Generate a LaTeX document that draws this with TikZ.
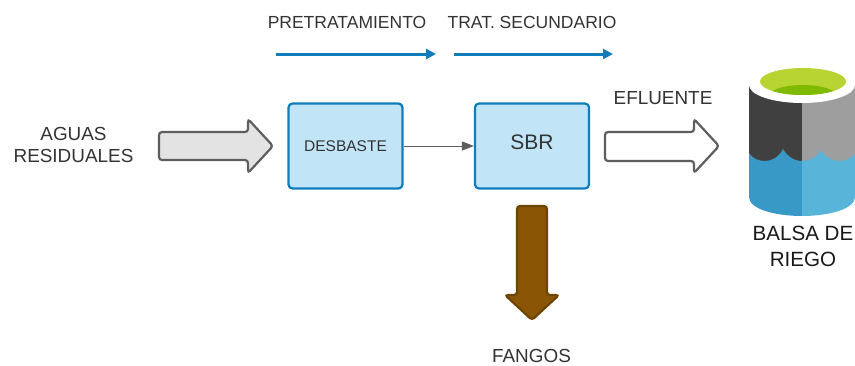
\documentclass[tikz,border=0pt]{standalone}
\usepackage{fontspec}
\setmainfont{Liberation Sans}
\usetikzlibrary{arrows.meta}
\definecolor{texto}{HTML}{333333}
\definecolor{azul}{HTML}{0F7DBB}
\definecolor{celeste}{HTML}{C1E4F7}
\definecolor{gris}{HTML}{5E5E5E}
\definecolor{fango}{HTML}{8A5504}
\begin{document}
\begin{tikzpicture}[x=1pt,y=-1pt,
    etiqueta/.style={text=texto,font=\fontsize{17.5}{22}\selectfont,align=center,inner sep=0pt},
    grande/.style={etiqueta,font=\fontsize{18.9}{22}\selectfont},
    proceso/.style={draw=azul,line width=2.2pt,fill=celeste,rounded corners=4pt,text=texto,minimum width=114pt,minimum height=85pt,inner sep=0pt},
    etapa/.style={draw=azul,line width=3pt,-{Triangle[length=10pt,width=10pt]}},
    flecha/.style={draw=gris,line width=2.2pt,rounded corners=3pt}]
\useasboundingbox (0,0) rectangle (855,365);
\def\flechaizq{(159,132) -- (248,132) -- (248,119) -- (273,146) -- (248,173) -- (248,160) -- (159,160) -- cycle}
\def\flechader{(605,132) -- (694,132) -- (694,119) -- (719,146) -- (694,173) -- (694,161) -- (605,161) -- cycle}
\def\flechafango{(517,206) -- (547,206) -- (547,295) -- (559,295) -- (532,320) -- (505,295) -- (517,295) -- cycle}
% textos de arriba
\node[etiqueta] (pre) at (347,22) {PRETRATAMIENTO};
\node[etiqueta] (sec) at (532,22) {TRAT. SECUNDARIO};
\coordinate (pre1) at (276,54);
\coordinate (pre2) at (436,54);
\coordinate (sec1) at (454,54);
\coordinate (sec2) at (613,54);
\draw[etapa] (pre1) -- (pre2);
\draw[etapa] (sec1) -- (sec2);
% linea de agua
\node[grande] (aguas) at (73.5,145) {AGUAS\\RESIDUALES};
\draw[flecha,fill=black!11] \flechaizq;
\node[proceso,font=\fontsize{15.5}{18}\selectfont] (desbaste) at (345.5,146) {DESBASTE};
\node[proceso,font=\fontsize{21}{24}\selectfont] (sbr) at (532,146) {\raisebox{8pt}{SBR}};
\draw[draw=gris,line width=1pt,-{Triangle[length=12pt,width=9pt]}] (desbaste) -- (sbr);
\node[grande] (efluente) at (663,98) {EFLUENTE};
\draw[flecha,fill=white] \flechader;
\draw[draw=fango!80!black,line width=2.2pt,rounded corners=3pt,fill=fango] \flechafango;
\node[grande] (fangos) at (531.5,355.5) {FANGOS};
% balsa
\fill[black!75] (749,85) -- (802,85) -- (802,165) -- (749,165) -- cycle;
\fill[black!38!white] (802,85) -- (855,85) -- (855,165) -- (802,165) -- cycle;
\fill[color={rgb,255:red,57;green,153;blue,198}] (749,153) .. controls (753,159) and (759,161) .. (765,161) .. controls (772,161) and (779,157) .. (783,149) .. controls (787,156) and (794,161) .. (802,161) -- (802,216) .. controls (775,216) and (749,209) .. (749,197) -- cycle;
\fill[color={rgb,255:red,89;green,180;blue,217}] (802,161) .. controls (810,161) and (817,157) .. (821,150) .. controls (825,157) and (832,161) .. (840,161) .. controls (846,161) and (851,158) .. (855,154) -- (855,197) .. controls (855,209) and (829,216) .. (802,216) -- cycle;
\fill[white] (802,85) ellipse (53 and 18);
\fill[color={rgb,255:red,184;green,212;blue,50}] (803,81.5) ellipse (43 and 13.5);
\begin{scope}
\clip (803,81.5) ellipse (43 and 13.5);
\fill[color={rgb,255:red,127;green,186;blue,0}] (803,96) ellipse (34 and 11);
\end{scope}
\node[etiqueta,font=\fontsize{20.6}{26}\selectfont,text=black!90] (balsa) at (803,246) {BALSA DE\\RIEGO};
\end{tikzpicture}
\end{document}
